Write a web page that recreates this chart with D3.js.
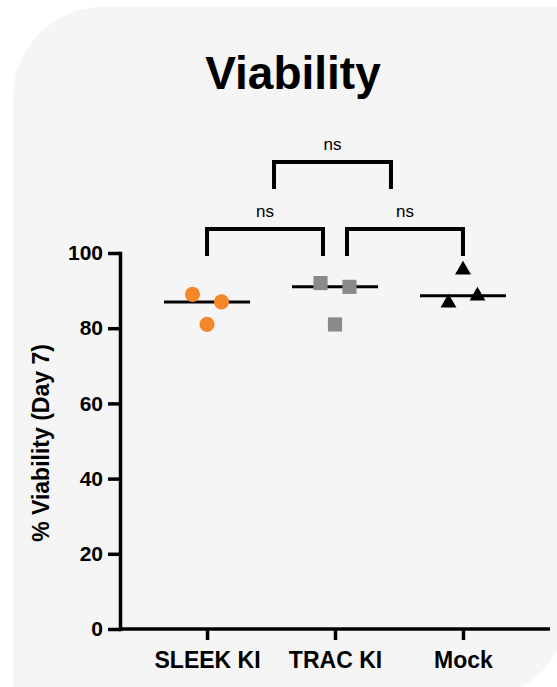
<!DOCTYPE html>
<html>
<head>
  <meta charset="utf-8">
  <title>Viability</title>
  <style>
    body { margin: 0; background: #ffffff; }
    text { font-family: "Liberation Sans", Arial, Helvetica, sans-serif; }
    .axis path, .axis line { stroke: #000; stroke-width: 3.5px; }
    .axis text { font-weight: bold; font-size: 21px; fill: #000; }
    .x.axis text { font-size: 23px; }
  </style>
  <script src="https://cdn.jsdelivr.net/npm/d3@7"></script>
</head>
<body>
<script>
// data
var groups = ["SLEEK KI", "TRAC KI", "Mock"];
var sleekValues = [89, 87, 81];
var tracValues = [92, 91, 81];
var mockValues = [95.5, 86.7, 88.6];
var sleekSlots = [-1, 1, 0];
var tracSlots = [-1, 1, 0];
var mockSlots = [0, -1, 1];
var yTicks = [0, 20, 40, 60, 80, 100];
var comparisons = [
  {a: "SLEEK KI", b: "TRAC KI", level: 106.4, legTo: 99.2, label: "ns"},
  {a: "TRAC KI", b: "Mock", level: 106.4, legTo: 99.2, label: "ns"},
  {a: "SLEEK KI", b: "Mock", level: 124.2, legTo: 117, label: "ns"}
];

var width = 557, height = 687;

var svg = d3.select("body").append("svg")
    .attr("width", width)
    .attr("height", height);

// grey panel, rounded top-left and bottom-right
var px = 13, py = 7, pr = 90, pw = 568, pb = 698;
svg.append("path")
    .attr("d", "M" + px + "," + (py + pr) +
      " A" + pr + "," + pr + " 0 0 1 " + (px + pr) + "," + py +
      " L" + pw + "," + py +
      " L" + pw + "," + (pb - pr) +
      " A" + pr + "," + pr + " 0 0 1 " + (pw - pr) + "," + pb +
      " L" + px + "," + pb + " Z")
    .attr("fill", "#f5f5f5");

// scales
var x = d3.scalePoint()
    .domain(groups)
    .range([120, 550])
    .padding(0.68);
var y = d3.scaleLinear()
    .domain([0, 100])
    .range([629, 253]);

// axes
svg.append("g")
    .attr("class", "y axis")
    .attr("transform", "translate(120,0)")
    .call(d3.axisLeft(y).tickValues(yTicks).tickSize(12).tickSizeOuter(0).tickPadding(5))
    .call(function(g) { g.select(".domain").attr("stroke-linecap", "square"); });

svg.append("g")
    .attr("class", "x axis")
    .attr("transform", "translate(0," + y(0) + ")")
    .call(d3.axisBottom(x).tickSize(11).tickSizeOuter(0).tickPadding(6))
    .call(function(g) {
      g.select(".domain").attr("d", "M120,0H550");
      g.selectAll(".tick text").attr("dy", "0.95em");
    });

// y axis title
svg.append("text")
    .attr("transform", "translate(49," + (y(50) + 2) + ") rotate(-90)")
    .attr("text-anchor", "middle")
    .style("font-weight", "bold")
    .style("font-size", "23px")
    .text("% Viability (Day 7)");

// chart title
svg.append("text")
    .attr("x", 293)
    .attr("y", 89)
    .attr("text-anchor", "middle")
    .style("font-weight", "bold")
    .style("font-size", "46px")
    .text("Viability");

// points
var series = [
  {group: "SLEEK KI", values: sleekValues, slots: sleekSlots, shape: d3.symbolCircle, color: "#f5862a", size: 180},
  {group: "TRAC KI", values: tracValues, slots: tracSlots, shape: d3.symbolSquare, color: "#8a8a88", size: 200},
  {group: "Mock", values: mockValues, slots: mockSlots, shape: d3.symbolTriangle, color: "#000000", size: 110}
];

series.forEach(function(s) {
  // median line
  var m = d3.median(s.values);
  svg.append("line")
      .attr("x1", x(s.group) - 43)
      .attr("x2", x(s.group) + 43)
      .attr("y1", y(m))
      .attr("y2", y(m))
      .attr("stroke", "#000")
      .attr("stroke-width", 3);

  svg.selectAll(null)
      .data(s.values)
    .enter().append("path")
      .attr("d", d3.symbol().type(s.shape).size(s.size))
      .attr("transform", function(d, i) {
        return "translate(" + (x(s.group) + s.slots[i] * 14.5) + "," + y(d) + ")";
      })
      .attr("fill", s.color);
});

// significance brackets
comparisons.forEach(function(c, i) {
  var x1, x2;
  if (i == 0) { x1 = x(c.a); x2 = x(c.b) - 12; }
  else if (i == 1) { x1 = x(c.a) + 12; x2 = x(c.b); }
  else { x1 = x(c.a) + 67; x2 = x(c.b) - 72; }
  svg.append("path")
      .attr("d", "M" + x1 + "," + y(c.legTo) + "V" + y(c.level) + "H" + x2 + "V" + y(c.legTo))
      .attr("fill", "none")
      .attr("stroke", "#000")
      .attr("stroke-width", 4);
  svg.append("text")
      .attr("x", (x1 + x2) / 2)
      .attr("y", y(c.level) - 12)
      .attr("text-anchor", "middle")
      .style("font-size", "17px")
      .text(c.label);
});
</script>
</body>
</html>
